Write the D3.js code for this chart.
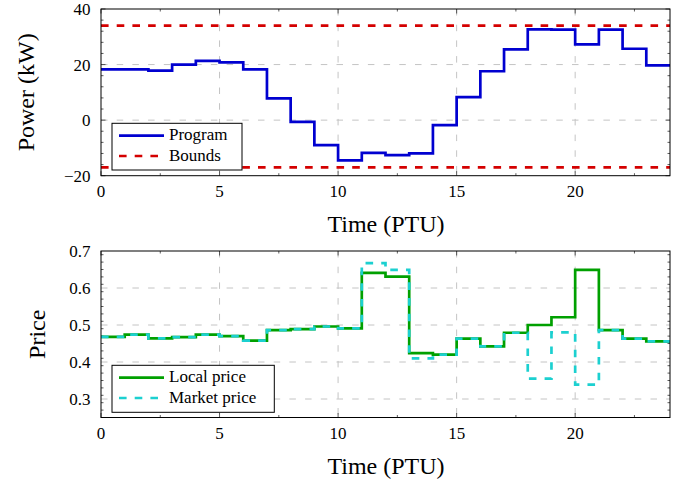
<!DOCTYPE html>
<html>
<head>
<meta charset="utf-8">
<script src="https://cdn.jsdelivr.net/npm/d3@7"></script>
<style>
  body { margin: 0; background: #fff; }
  text { font-family: "Liberation Serif", "DejaVu Serif", serif; fill: #000; }
</style>
</head>
<body>
<script>
// PTU index 0..23, one value per step
const program = [18.3, 18.3, 17.8, 20.0, 21.3, 20.8, 18.3, 7.8, -0.6, -9.0, -14.5, -11.8,
                 -12.6, -12.0, -1.8, 8.3, 17.6, 25.5, 32.7, 32.6, 27.3, 32.6, 25.7, 19.7];
const boundUpper = 34;
const boundLower = -17;

const localPrice = [0.468, 0.474, 0.464, 0.467, 0.474, 0.470, 0.458, 0.486, 0.489, 0.496, 0.491, 0.641,
                    0.631, 0.424, 0.420, 0.463, 0.442, 0.479, 0.500, 0.521, 0.649, 0.486, 0.463, 0.456];
const marketPrice = [0.468, 0.474, 0.464, 0.467, 0.474, 0.470, 0.458, 0.486, 0.489, 0.496, 0.491, 0.667,
                     0.649, 0.410, 0.420, 0.463, 0.442, 0.479, 0.355, 0.480, 0.339, 0.486, 0.463, 0.456];

const xTicks = [0, 5, 10, 15, 20];
const powerTicks = [-20, 0, 20, 40];
const priceTicks = [0.3, 0.4, 0.5, 0.6, 0.7];

const W = 693, H = 483;
const DASH = '7.6,8.1';
const svg = d3.select('body').append('svg').attr('width', W).attr('height', H);

// turn value array into step points, last value repeated at the end
function steps(vals) {
  const pts = vals.map((v, i) => [i, v]);
  pts.push([vals.length, vals[vals.length - 1]]);
  return pts;
}

function panel(opt) {
  const x = d3.scaleLinear().domain([0, 24]).range([opt.left, opt.right]);
  const y = d3.scaleLinear().domain(opt.domain).range([opt.bottom, opt.top]);
  const g = svg.append('g');

  // grid
  const grid = g.append('g').attr('stroke', '#c4c4c4').attr('stroke-width', 1).attr('stroke-dasharray', '6.5,9.2');
  xTicks.filter(t => t > 0).forEach(t => {
    grid.append('line').attr('x1', x(t)).attr('x2', x(t)).attr('y1', opt.top).attr('y2', opt.bottom);
  });
  opt.ticks.forEach(t => {
    const yy = y(t);
    if (yy > opt.top + 1 && yy < opt.bottom - 1)
      grid.append('line').attr('x1', opt.left).attr('x2', opt.right).attr('y1', yy).attr('y2', yy);
  });

  // inward ticks, mirrored on all sides
  const tk = g.append('g').attr('stroke', '#333').attr('stroke-width', 0.8);
  d3.range(0, 24.01, 2.5).forEach(t => {
    const len = (t % 5 === 0) ? 4.5 : 2.5;
    tk.append('line').attr('x1', x(t)).attr('x2', x(t)).attr('y1', opt.bottom).attr('y2', opt.bottom - len);
    tk.append('line').attr('x1', x(t)).attr('x2', x(t)).attr('y1', opt.top).attr('y2', opt.top + len);
  });
  const [d0, d1] = opt.domain;
  const nMinor = Math.round((d1 - d0) / opt.minor);
  for (let i = 0; i <= nMinor; i++) {
    const v = d0 + i * opt.minor;
    const major = opt.ticks.some(t => Math.abs(t - v) < 1e-6);
    const len = major ? 4.5 : 2.5;
    const yy = y(v);
    tk.append('line').attr('x1', opt.left).attr('x2', opt.left + len).attr('y1', yy).attr('y2', yy);
    tk.append('line').attr('x1', opt.right).attr('x2', opt.right - len).attr('y1', yy).attr('y2', yy);
  }

  // tick labels
  xTicks.forEach(t => {
    g.append('text').attr('x', x(t)).attr('y', opt.bottom + 21.3).attr('text-anchor', 'middle')
      .attr('font-size', 17).text(t);
  });
  opt.ticks.forEach(t => {
    g.append('text').attr('x', opt.left - 10.5).attr('y', y(t) + 6).attr('text-anchor', 'end')
      .attr('font-size', 17).text(opt.fmt(t));
  });

  // axis titles
  g.append('text').attr('x', (opt.left + opt.right) / 2 + 0.5).attr('y', opt.bottom + 56.6)
    .attr('text-anchor', 'middle').attr('font-size', 24).text('Time (PTU)');
  g.append('text').attr('transform', `translate(${opt.ylabX},${(opt.top + opt.bottom) / 2}) rotate(-90)`)
    .attr('text-anchor', 'middle').attr('font-size', 24).text(opt.ylabel);

  const clip = 'clip' + opt.id;
  svg.append('clipPath').attr('id', clip).append('rect')
    .attr('x', opt.left).attr('y', opt.top - 3).attr('width', opt.right - opt.left).attr('height', opt.bottom - opt.top + 6);

  const line = d3.line().x(d => x(d[0])).y(d => y(d[1])).curve(d3.curveStepAfter);
  const plot = g.append('g').attr('clip-path', `url(#${clip})`);
  opt.series.forEach(s => {
    plot.append('path').datum(s.data).attr('d', line).attr('fill', 'none')
      .attr('stroke', s.color).attr('stroke-width', 2.7)
      .attr('stroke-dasharray', s.dash || null);
  });

  // frame
  g.append('rect').attr('x', opt.left).attr('y', opt.top).attr('width', opt.right - opt.left)
    .attr('height', opt.bottom - opt.top).attr('fill', 'none').attr('stroke', '#000').attr('stroke-width', 1);

  // legend
  const L = opt.legend;
  const lg = g.append('g');
  lg.append('rect').attr('x', L.x).attr('y', L.y).attr('width', L.w).attr('height', L.h)
    .attr('fill', '#fff').attr('stroke', '#000').attr('stroke-width', 1);
  opt.series.filter(s => s.label).forEach((s, i) => {
    const yy = L.y + 12.4 + i * 20.3;
    lg.append('line').attr('x1', L.x + 7).attr('x2', L.x + 52).attr('y1', yy).attr('y2', yy)
      .attr('stroke', s.color).attr('stroke-width', 2.7).attr('stroke-dasharray', s.dash || null);
    lg.append('text').attr('x', L.x + 57).attr('y', yy + 4.5).attr('font-size', 17).text(s.label);
  });
}

const fmtPow = d => d < 0 ? '\u2212' + Math.abs(d) : String(d);

panel({
  id: 'a', left: 101, right: 670, top: 9, bottom: 175.7,
  domain: [-20, 40], ticks: powerTicks, minor: 4, fmt: fmtPow,
  ylabel: 'Power (kW)', ylabX: 33.5,
  series: [
    { data: steps(program), color: '#0000d0', label: 'Program' },
    { data: [[0, boundUpper], [24, boundUpper]], color: '#d40000', dash: DASH, label: 'Bounds' },
    { data: [[0, boundLower], [24, boundLower]], color: '#d40000', dash: DASH }
  ],
  legend: { x: 112, y: 123.3, w: 130, h: 46.7 }
});

panel({
  id: 'b', left: 101, right: 670, top: 251, bottom: 417.5,
  domain: [0.25, 0.7], ticks: priceTicks, minor: 0.02, fmt: d3.format('.1f'),
  ylabel: 'Price', ylabX: 44.5,
  series: [
    { data: steps(localPrice), color: '#00a000', label: 'Local price' },
    { data: steps(marketPrice), color: '#1cd0d0', dash: DASH, label: 'Market price' }
  ],
  legend: { x: 112, y: 365.3, w: 162.3, h: 47 }
});
</script>
</body>
</html>
